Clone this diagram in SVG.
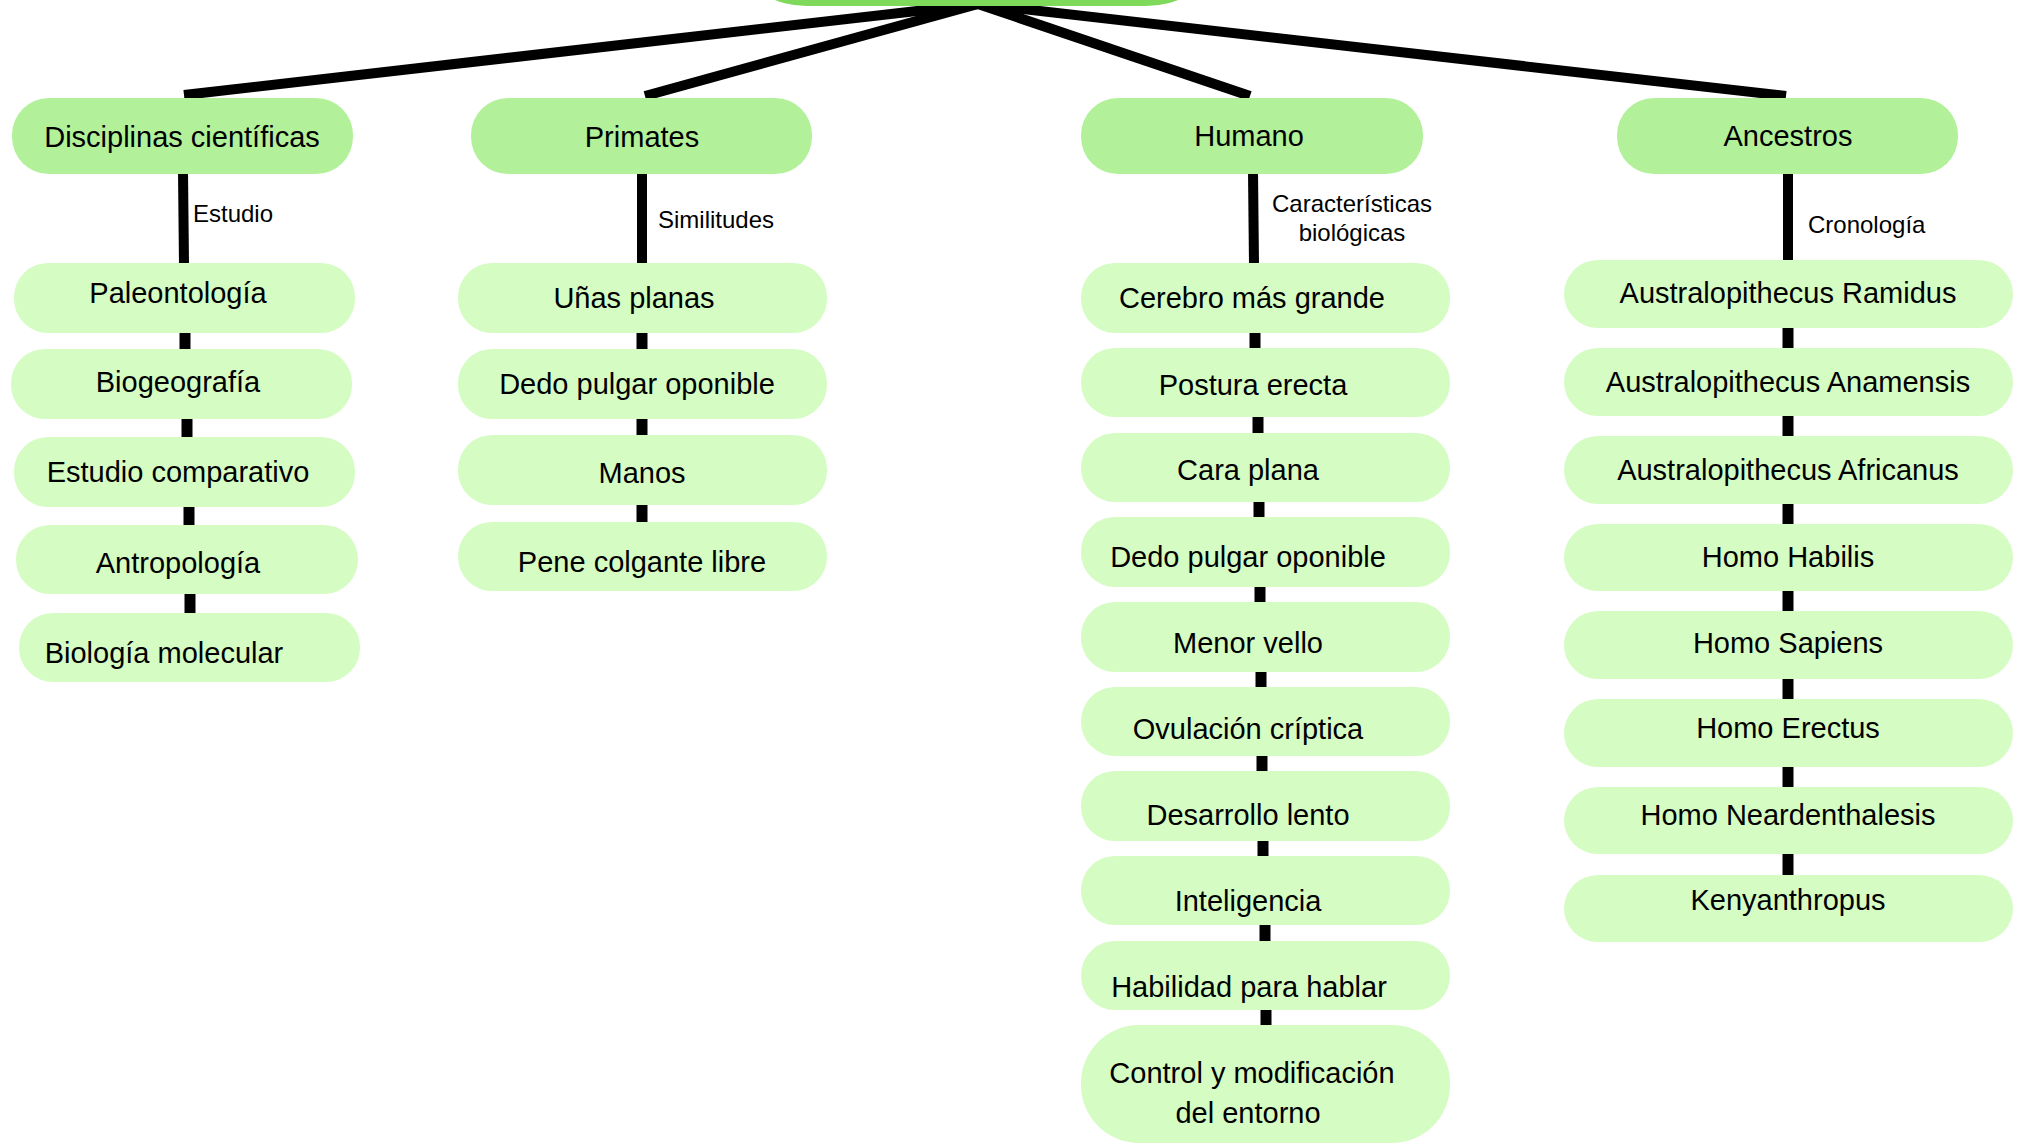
<svg xmlns="http://www.w3.org/2000/svg" width="2024" height="1143" viewBox="0 0 2024 1143">
<style>
.root{fill:#7fd95b}
.l1{fill:#b2f19a}
.sub{fill:#d5fcc2}
.t{font-family:"Liberation Sans",Arial,sans-serif;font-size:29px;fill:#000;text-anchor:middle}
.lbl{font-family:"Liberation Sans",Arial,sans-serif;font-size:24px;fill:#000}
.c{stroke:#000;stroke-width:10;fill:none;stroke-linecap:butt}
.cs{stroke:#000;stroke-width:11;fill:none;stroke-linecap:butt}
</style>
<rect width="2024" height="1143" fill="#fff"/>
<g id="connectors">
<line class="c" x1="978" y1="4" x2="184" y2="95"/>
<line class="c" x1="978" y1="4" x2="645" y2="96"/>
<line class="c" x1="978" y1="4" x2="1250" y2="96"/>
<line class="c" x1="978" y1="4" x2="1786" y2="96"/>
<line class="c" x1="183" y1="172" x2="184" y2="265"/>
<line class="c" x1="642" y1="172" x2="642" y2="265"/>
<line class="c" x1="1253" y1="172" x2="1254" y2="265"/>
<line class="c" x1="1788" y1="172" x2="1788" y2="262"/>
<line class="cs" x1="185" y1="331" x2="185" y2="351"/>
<line class="cs" x1="187" y1="417" x2="187" y2="439"/>
<line class="cs" x1="189" y1="505" x2="189" y2="527"/>
<line class="cs" x1="190" y1="592" x2="190" y2="615"/>
<line class="cs" x1="642" y1="331" x2="642" y2="351"/>
<line class="cs" x1="642" y1="417" x2="642" y2="437"/>
<line class="cs" x1="642" y1="503" x2="642" y2="524"/>
<line class="cs" x1="1255" y1="331" x2="1255" y2="350"/>
<line class="cs" x1="1258" y1="415" x2="1258" y2="435"/>
<line class="cs" x1="1259" y1="500" x2="1259" y2="519"/>
<line class="cs" x1="1260" y1="585" x2="1260" y2="604"/>
<line class="cs" x1="1261" y1="670" x2="1261" y2="689"/>
<line class="cs" x1="1262" y1="754" x2="1262" y2="773"/>
<line class="cs" x1="1263" y1="839" x2="1263" y2="858"/>
<line class="cs" x1="1265" y1="923" x2="1265" y2="943"/>
<line class="cs" x1="1266" y1="1008" x2="1266" y2="1027"/>
<line class="cs" x1="1788" y1="326" x2="1788" y2="350"/>
<line class="cs" x1="1788" y1="414" x2="1788" y2="438"/>
<line class="cs" x1="1788" y1="502" x2="1788" y2="526"/>
<line class="cs" x1="1788" y1="589" x2="1788" y2="613"/>
<line class="cs" x1="1788" y1="677" x2="1788" y2="701"/>
<line class="cs" x1="1788" y1="765" x2="1788" y2="789"/>
<line class="cs" x1="1788" y1="852" x2="1788" y2="877"/>
<text class="lbl" x="193" y="222">Estudio</text>
<text class="lbl" x="658" y="228">Similitudes</text>
<text class="lbl" x="1352" y="212" text-anchor="middle">Características</text>
<text class="lbl" x="1352" y="241" text-anchor="middle">biológicas</text>
<text class="lbl" x="1808" y="233">Cronología</text>
</g>
<g id="root"><rect class="root" x="749" y="-70" width="455" height="76" rx="58" ry="36"/></g>
<g id="disciplinas"><rect class="l1" x="12" y="98" width="341" height="76" rx="37"/><text class="t" x="182" y="147">Disciplinas científicas</text></g>
<g id="primates"><rect class="l1" x="471" y="98" width="341" height="76" rx="37"/><text class="t" x="642" y="147">Primates</text></g>
<g id="humano"><rect class="l1" x="1081" y="98" width="342" height="76" rx="37"/><text class="t" x="1249" y="146">Humano</text></g>
<g id="ancestros"><rect class="l1" x="1617" y="98" width="341" height="76" rx="37"/><text class="t" x="1788" y="146">Ancestros</text></g>

<g id="paleontologia"><rect class="sub" x="14" y="263" width="341" height="70" rx="34"/><text class="t" x="178" y="303">Paleontología</text></g>
<g id="biogeografia"><rect class="sub" x="11" y="349" width="341" height="70" rx="34"/><text class="t" x="178" y="392">Biogeografía</text></g>
<g id="estudio-comparativo"><rect class="sub" x="14" y="437" width="341" height="70" rx="34"/><text class="t" x="178" y="482">Estudio comparativo</text></g>
<g id="antropologia"><rect class="sub" x="16" y="525" width="342" height="69" rx="34"/><text class="t" x="178" y="573">Antropología</text></g>
<g id="biologia-molecular"><rect class="sub" x="19" y="613" width="341" height="69" rx="34"/><text class="t" x="164" y="663">Biología molecular</text></g>

<g id="unas-planas"><rect class="sub" x="458" y="263" width="369" height="70" rx="34"/><text class="t" x="634" y="308">Uñas planas</text></g>
<g id="dedo-pulgar-primates"><rect class="sub" x="458" y="349" width="369" height="70" rx="34"/><text class="t" x="637" y="394">Dedo pulgar oponible</text></g>
<g id="manos"><rect class="sub" x="458" y="435" width="369" height="70" rx="34"/><text class="t" x="642" y="483">Manos</text></g>
<g id="pene"><rect class="sub" x="458" y="522" width="369" height="69" rx="34"/><text class="t" x="642" y="572">Pene colgante libre</text></g>

<g id="cerebro"><rect class="sub" x="1081" y="263" width="369" height="70" rx="34"/><text class="t" x="1252" y="308">Cerebro más grande</text></g>
<g id="postura"><rect class="sub" x="1081" y="348" width="369" height="69" rx="34"/><text class="t" x="1253" y="395">Postura erecta</text></g>
<g id="cara"><rect class="sub" x="1081" y="433" width="369" height="69" rx="34"/><text class="t" x="1248" y="480">Cara plana</text></g>
<g id="dedo-pulgar-humano"><rect class="sub" x="1081" y="517" width="369" height="70" rx="34"/><text class="t" x="1248" y="567">Dedo pulgar oponible</text></g>
<g id="vello"><rect class="sub" x="1081" y="602" width="369" height="70" rx="34"/><text class="t" x="1248" y="653">Menor vello</text></g>
<g id="ovulacion"><rect class="sub" x="1081" y="687" width="369" height="69" rx="34"/><text class="t" x="1248" y="739">Ovulación críptica</text></g>
<g id="desarrollo"><rect class="sub" x="1081" y="771" width="369" height="70" rx="34"/><text class="t" x="1248" y="825">Desarrollo lento</text></g>
<g id="inteligencia"><rect class="sub" x="1081" y="856" width="369" height="69" rx="34"/><text class="t" x="1248" y="911">Inteligencia</text></g>
<g id="habilidad"><rect class="sub" x="1081" y="941" width="369" height="69" rx="34"/><text class="t" x="1249" y="997">Habilidad para hablar</text></g>
<g id="control"><rect class="sub" x="1081" y="1025" width="369" height="118" rx="58"/><text class="t" x="1252" y="1083">Control y modificación</text><text class="t" x="1248" y="1123">del entorno</text></g>

<g id="ramidus"><rect class="sub" x="1564" y="260" width="449" height="68" rx="34"/><text class="t" x="1788" y="303">Australopithecus Ramidus</text></g>
<g id="anamensis"><rect class="sub" x="1564" y="348" width="449" height="68" rx="34"/><text class="t" x="1788" y="392">Australopithecus Anamensis</text></g>
<g id="africanus"><rect class="sub" x="1564" y="436" width="449" height="68" rx="34"/><text class="t" x="1788" y="480">Australopithecus Africanus</text></g>
<g id="habilis"><rect class="sub" x="1564" y="524" width="449" height="67" rx="34"/><text class="t" x="1788" y="567">Homo Habilis</text></g>
<g id="sapiens"><rect class="sub" x="1564" y="611" width="449" height="68" rx="34"/><text class="t" x="1788" y="653">Homo Sapiens</text></g>
<g id="erectus"><rect class="sub" x="1564" y="699" width="449" height="68" rx="34"/><text class="t" x="1788" y="738">Homo Erectus</text></g>
<g id="neardenthalesis"><rect class="sub" x="1564" y="787" width="449" height="67" rx="34"/><text class="t" x="1788" y="825">Homo Neardenthalesis</text></g>
<g id="kenyanthropus"><rect class="sub" x="1564" y="875" width="449" height="67" rx="34"/><text class="t" x="1788" y="910">Kenyanthropus</text></g>
</svg>
